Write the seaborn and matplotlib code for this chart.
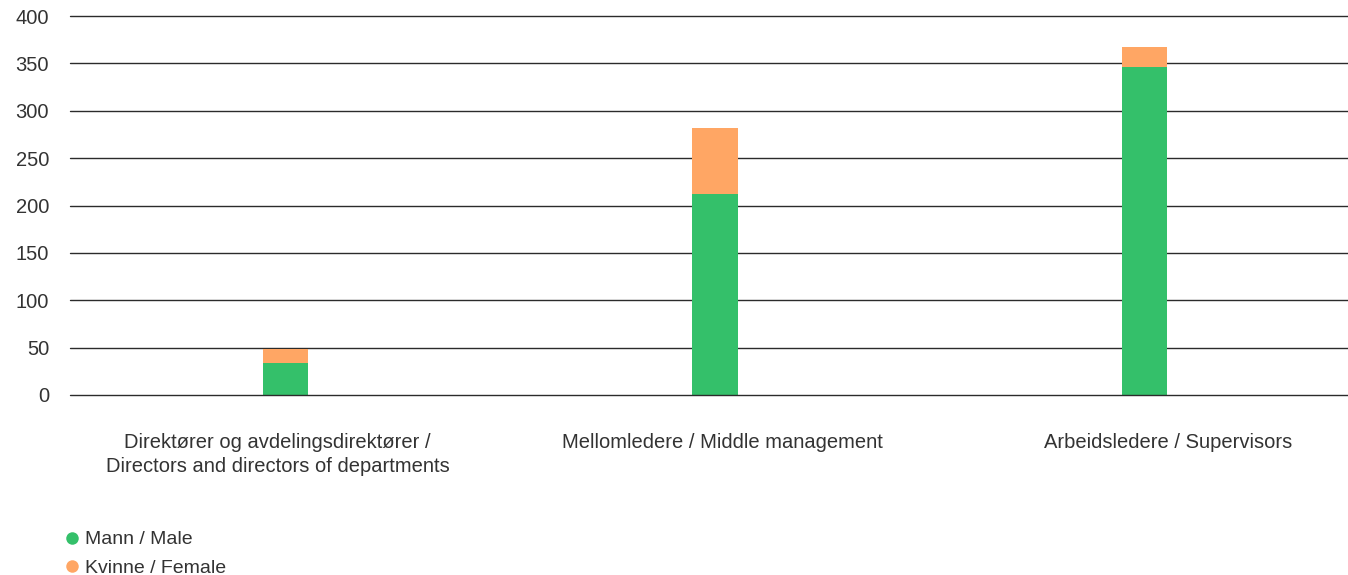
import matplotlib
matplotlib.use("Agg")
import matplotlib.pyplot as plt
import matplotlib.transforms as mtransforms
from matplotlib.lines import Line2D
import seaborn as sns
import pandas as pd

categories = [
    "Direktører og avdelingsdirektører /\nDirectors and directors of departments",
    "Mellomledere / Middle management",
    "Arbeidsledere / Supervisors",
]
male = [34, 212, 346]
female = [15, 70, 21]
series_names = ["Mann / Male", "Kvinne / Female"]
yticks = [0, 50, 100, 150, 200, 250, 300, 350, 400]

green = "#34C06A"
orange = "#FFA664"
text_color = "#333333"

sns.set_theme(style="white")
plt.rcParams["font.family"] = ["Liberation Sans", "DejaVu Sans"]

df = pd.DataFrame({
    "category": categories,
    "male": male,
    "total": [m + f for m, f in zip(male, female)],
})

fig = plt.figure(figsize=(13.48, 5.75), dpi=100)
ax = fig.add_axes([70 / 1348, 1 - 395 / 575, (1348 - 70) / 1348, (395 - 16) / 575])

for y in yticks:
    ax.axhline(y, color="#2b2b2b", lw=1.0, zorder=1 if y else 4, clip_on=False)

sns.barplot(data=df, x="category", y="total", color=orange, width=0.105,
            saturation=1, linewidth=0, ax=ax, zorder=2)
sns.barplot(data=df, x="category", y="male", color=green, width=0.105,
            saturation=1, linewidth=0, ax=ax, zorder=3)

ax.set_xlim(-0.502, 2.474)
ax.set_ylim(0, 400)
ax.set_yticks(yticks)
ax.set_yticklabels([str(v) for v in yticks])
ax.set_xlabel("")
ax.set_ylabel("")
for s in ax.spines.values():
    s.set_visible(False)
ax.tick_params(axis="y", length=0, pad=15, labelsize=14.5, labelcolor=text_color)
ax.tick_params(axis="x", length=0, pad=27, labelsize=14.5, labelcolor=text_color)
label_shift_px = [-8, 7, 24]
for lbl, dx in zip(ax.get_xticklabels(), label_shift_px):
    lbl.set_linespacing(1.35)
    lbl.set_transform(lbl.get_transform() +
                      mtransforms.ScaledTranslation(dx / 100, 0, fig.dpi_scale_trans))

handles = [
    Line2D([0], [0], marker="o", color="none", markerfacecolor=green,
           markeredgecolor="none", markersize=9),
    Line2D([0], [0], marker="o", color="none", markerfacecolor=orange,
           markeredgecolor="none", markersize=9),
]
fig.legend(handles, series_names, loc="upper left",
           bbox_to_anchor=(55 / 1348, 1 - 521 / 575), frameon=False,
           fontsize=14, handlelength=0.7, handletextpad=0.35,
           labelspacing=0.55, borderpad=0, labelcolor=text_color)

fig.savefig("out.png", dpi=100)
